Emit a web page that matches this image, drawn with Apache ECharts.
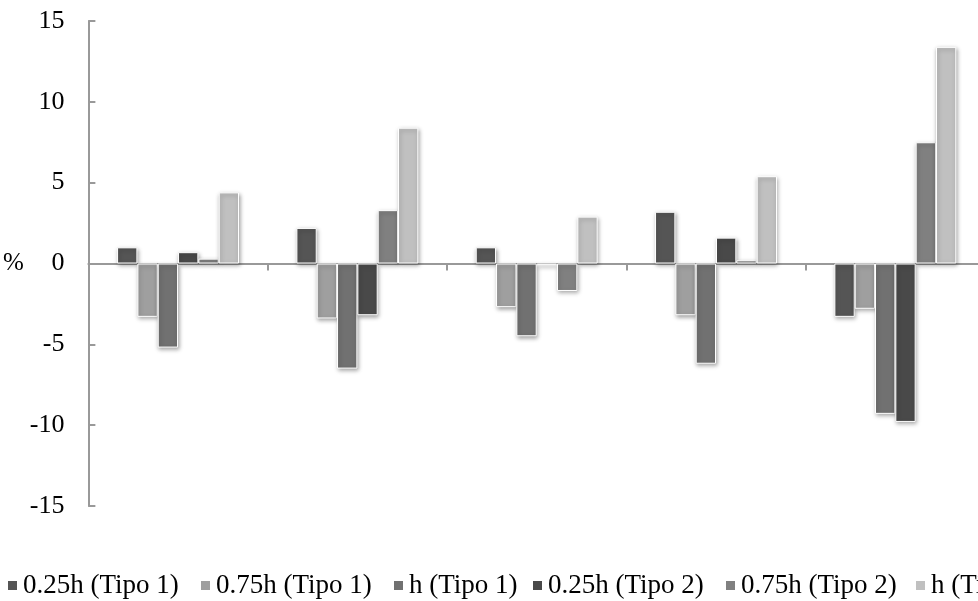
<!DOCTYPE html>
<html>
<head>
<meta charset="utf-8">
<script src="https://cdn.jsdelivr.net/npm/echarts@6/dist/echarts.min.js"></script>
<style>
html,body{margin:0;padding:0;background:#fff;overflow:hidden;width:978px;height:601px;}
#c{width:1000px;height:601px;}
</style>
</head>
<body>
<div id="c"></div>
<script>
var categories = ['1', '2', '3', '4', '5'];
var seriesNames = ['0.25h (Tipo 1)', '0.75h (Tipo 1)', 'h (Tipo 1)', '0.25h (Tipo 2)', '0.75h (Tipo 2)', 'h (Tipo 2)'];
var s025T1 = [1.0, 2.2, 1.0, 3.2, -3.3];
var s075T1 = [-3.3, -3.4, -2.7, -3.2, -2.8];
var shT1 = [-5.2, -6.5, -4.5, -6.2, -9.3];
var s025T2 = [0.7, -3.2, -0.1, 1.6, -9.8];
var s075T2 = [0.3, 3.3, -1.7, 0.2, 7.5];
var shT2 = [4.4, 8.4, 2.9, 5.4, 13.4];
var yTicks = [-15, -10, -5, 0, 5, 10, 15];

var seriesData = [s025T1, s075T1, shT1, s025T2, s075T2, shT2];
var colors = ['#555555', '#9f9f9f', '#717171', '#494949', '#808080', '#c0c0c0'];
var legendLefts = [6, 199, 392, 531, 724, 914];

var chart = echarts.init(document.getElementById('c'), null, {renderer: 'canvas'});
var font = 'Liberation Serif';

var legends = seriesNames.map(function (n, i) {
  return {
    data: [n],
    left: legendLefts[i],
    top: 572,
    padding: 0,
    itemWidth: 11,
    itemHeight: 11,
    itemGap: 0,
    icon: 'rect',
    textStyle: {fontFamily: font, fontSize: 27, color: '#000', padding: [0, 0, 0, 0]}
  };
});

var option = {
  backgroundColor: '#fff',
  animation: false,
  color: colors,
  legend: legends,
  grid: {left: 85, top: 21, width: 900, bottom: 95, containLabel: false},
  xAxis: {
    type: 'category',
    data: categories,
    axisLine: {onZero: true, lineStyle: {color: '#999', width: 2}},
    axisTick: {show: true, length: 7, lineStyle: {color: '#999', width: 2}},
    axisLabel: {show: false},
    splitLine: {show: false}
  },
  yAxis: {
    type: 'value',
    min: yTicks[0],
    max: yTicks[yTicks.length - 1],
    interval: 5,
    name: '%',
    nameLocation: 'middle',
    nameRotate: 0,
    nameGap: 56,
    nameTextStyle: {fontFamily: font, fontSize: 25, color: '#000'},
    axisLine: {show: true, lineStyle: {color: '#999', width: 2}},
    axisTick: {show: true, inside: true, length: 7, lineStyle: {color: '#999', width: 2}},
    axisLabel: {margin: 24, fontFamily: font, fontSize: 26, color: '#000'},
    splitLine: {show: false}
  },
  series: seriesNames.map(function (n, i) {
    return {
      name: n,
      type: 'bar',
      data: seriesData[i],
      barGap: '0%',
      barCategoryGap: '32%',
      itemStyle: {
        color: colors[i],
        borderColor: '#fff',
        borderWidth: 1,
        shadowBlur: 4,
        shadowOffsetX: 1,
        shadowOffsetY: 2,
        shadowColor: 'rgba(0,0,0,0.35)'
      }
    };
  })
};
chart.setOption(option);
</script>
</body>
</html>
